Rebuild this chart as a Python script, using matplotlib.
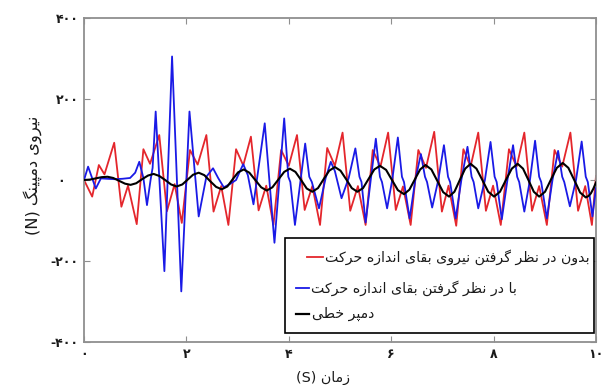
import matplotlib
matplotlib.use("Agg")
import matplotlib.pyplot as plt
from matplotlib.lines import Line2D
from matplotlib.patches import Rectangle

plt.rcParams['font.family'] = ['DejaVu Sans']

# ---------------- data ----------------
time_red = [0.00, 0.16, 0.29, 0.40, 0.59, 0.73, 0.86, 1.03,
            1.16, 1.29, 1.47, 1.62, 1.77, 1.91,
            2.07, 2.22, 2.39, 2.53, 2.68, 2.82,
            2.97, 3.11, 3.26, 3.41, 3.56, 3.70,
            3.85, 4.00, 4.16, 4.31, 4.46, 4.61,
            4.75, 4.90, 5.05, 5.20, 5.35, 5.50,
            5.64, 5.79, 5.94, 6.09, 6.23, 6.38,
            6.53, 6.68, 6.84, 6.99, 7.12, 7.27,
            7.41, 7.55, 7.70, 7.85, 7.99, 8.14,
            8.30, 8.45, 8.60, 8.75, 8.89, 9.04,
            9.19, 9.34, 9.50, 9.65, 9.79, 9.92, 10.00]
force_red = [0, -41, 37, 14, 92, -66, -14, -109,
             76, 40, 111, -77, -10, -106,
             74, 38, 111, -78, -15, -111,
             76, 36, 107, -75, -14, -111,
             74, 35, 111, -74, -15, -111,
             79, 35, 117, -76, -15, -111,
             74, 33, 117, -74, -16, -111,
             74, 30, 119, -78, -14, -113,
             76, 33, 117, -76, -14, -111,
             76, 33, 117, -76, -15, -111,
             74, 33, 117, -76, -15, -111, 10]

time_blue = [0.00, 0.08, 0.23, 0.33, 0.45, 0.60, 0.75, 0.90, 1.00, 1.08,
             1.16, 1.23, 1.30, 1.34, 1.40, 1.57, 1.72, 1.90, 2.06, 2.24,
             2.39, 2.52, 2.62, 2.73, 2.85, 2.97, 3.04, 3.11, 3.20, 3.31,
             3.53, 3.72, 3.91, 3.99, 4.03, 4.12, 4.32, 4.40, 4.45, 4.59,
             4.72, 4.82, 4.90, 5.03, 5.17, 5.30, 5.38, 5.42, 5.50, 5.60,
             5.70, 5.78, 5.82, 5.92, 6.02, 6.13, 6.21, 6.25, 6.36, 6.47,
             6.58, 6.66, 6.70, 6.80, 6.92, 7.03, 7.11, 7.15, 7.26, 7.37,
             7.49, 7.57, 7.61, 7.70, 7.83, 7.94, 8.02, 8.06, 8.16, 8.27,
             8.38, 8.46, 8.50, 8.60, 8.71, 8.81, 8.89, 8.93, 9.04, 9.15,
             9.26, 9.34, 9.38, 9.49, 9.61, 9.72, 9.80, 9.84, 9.93, 10.00]
force_blue = [0, 33, -21, 4, 3, 2, 3, 5, 18, 45,
              5, -62, 0, 30, 169, -225, 305, -275, 169, -90,
              8, 29, 5, -18, -10, 0, 20, 39, 12, -60,
              140, -155, 152, 8, -5, -111, 90, 8, -5, -70,
              5, 45, 22, -45, 5, 78, 8, -5, -105, 0,
              102, 8, -5, -70, 0, 105, 8, -5, -95, 0,
              64, 8, -5, -68, 0, 86, 8, -5, -95, 0,
              82, 8, -5, -70, 0, 94, 8, -5, -97, 0,
              86, 8, -5, -78, 0, 97, 8, -5, -95, 0,
              72, 8, -5, -65, 0, 95, 8, -5, -90, -20]

time_black = [0.00, 0.115, 0.23, 0.345, 0.46, 0.57, 0.685, 0.80, 0.91,
              1.02, 1.135, 1.25, 1.36, 1.47, 1.585, 1.70, 1.81,
              1.92, 2.025, 2.13, 2.24, 2.35, 2.465, 2.58, 2.69,
              2.80, 2.905, 3.01, 3.12, 3.23, 3.345, 3.46, 3.57,
              3.68, 3.795, 3.91, 4.02, 4.13, 4.24, 4.35, 4.46,
              4.57, 4.68, 4.79, 4.90, 5.01, 5.12, 5.23, 5.34,
              5.45, 5.56, 5.67, 5.78, 5.90, 6.015, 6.13, 6.25,
              6.355, 6.46, 6.565, 6.67, 6.785, 6.90, 7.015, 7.13,
              7.235, 7.34, 7.445, 7.55, 7.665, 7.78, 7.895, 8.01,
              8.125, 8.24, 8.355, 8.47, 8.575, 8.68, 8.785, 8.89,
              9.005, 9.12, 9.235, 9.35, 9.46, 9.575, 9.69, 9.80,
              9.85, 9.90, 9.95, 10.00]
force_black = [0, 1, 4, 7, 8, 5, -2, -9, -12,
               -8, 2, 11, 15, 10, 0, -11, -16,
               -11, 1, 13, 18, 12, -3, -17, -23,
               -16, 2, 19, 26, 18, 0, -18, -26,
               -18, 1, 20, 28, 20, 0, -21, -29,
               -20, 2, 23, 32, 23, 2, -20, -29,
               -20, 3, 26, 35, 25, 0, -25, -35,
               -24, 1, 26, 37, 26, -2, -30, -41,
               -29, 0, 28, 40, 28, 0, -29, -41,
               -29, 0, 28, 40, 28, 0, -29, -41,
               -29, 1, 30, 42, 30, 0, -31, -43,
               -40, -33, -21, -6]

x_ticks = [0, 2, 4, 6, 8, 10]
y_ticks = [-400, -200, 0, 200, 400]

label_red = "بدون در نظر گرفتن نیروی بقای اندازه حرکت"
label_blue = "با در نظر گرفتن بقای اندازه حرکت"
label_black = "دمپر خطی"
xlabel_fa = "زمان"
ylabel_fa = "نیروی دمپینگ"

# ---------------- Persian shaping (contextual forms + visual order) ----------------
FORMS = {
    'ا': (0xFE8D, 0xFE8E, None, None),
    'ب': (0xFE8F, 0xFE90, 0xFE91, 0xFE92),
    'پ': (0xFB56, 0xFB57, 0xFB58, 0xFB59),
    'ت': (0xFE95, 0xFE96, 0xFE97, 0xFE98),
    'ج': (0xFE9D, 0xFE9E, 0xFE9F, 0xFEA0),
    'ح': (0xFEA1, 0xFEA2, 0xFEA3, 0xFEA4),
    'خ': (0xFEA5, 0xFEA6, 0xFEA7, 0xFEA8),
    'د': (0xFEA9, 0xFEAA, None, None),
    'ر': (0xFEAD, 0xFEAE, None, None),
    'ز': (0xFEAF, 0xFEB0, None, None),
    'ط': (0xFEC1, 0xFEC2, 0xFEC3, 0xFEC4),
    'ظ': (0xFEC5, 0xFEC6, 0xFEC7, 0xFEC8),
    'ف': (0xFED1, 0xFED2, 0xFED3, 0xFED4),
    'ق': (0xFED5, 0xFED6, 0xFED7, 0xFED8),
    '\u06a9': (0xFB8E, 0xFB8F, 0xFB90, 0xFB91),
    'گ': (0xFB92, 0xFB93, 0xFB94, 0xFB95),
    'م': (0xFEE1, 0xFEE2, 0xFEE3, 0xFEE4),
    'ن': (0xFEE5, 0xFEE6, 0xFEE7, 0xFEE8),
    'ه': (0xFEE9, 0xFEEA, 0xFEEB, 0xFEEC),
    'و': (0xFEED, 0xFEEE, None, None),
    '\u06cc': (0xFBFC, 0xFBFD, 0xFBFE, 0xFBFF),
}


def shape(s):
    s = s.replace('\u064a', '\u06cc').replace('\u0643', '\u06a9')
    out = []
    for i, c in enumerate(s):
        if c not in FORMS:
            out.append(c)
            continue
        iso, fin, ini, med = FORMS[c]
        prev = s[i - 1] if i > 0 else ''
        nxt = s[i + 1] if i + 1 < len(s) else ''
        jp = prev in FORMS and FORMS[prev][2] is not None
        jn = ini is not None and nxt in FORMS
        if jp and jn:
            g = med
        elif jp:
            g = fin
        elif jn:
            g = ini
        else:
            g = iso
        out.append(chr(g))
    return ''.join(reversed(out))


def fa_num(v):
    digits = str(abs(v)).translate(str.maketrans('0123456789', '۰۱۲۳۴۵۶۷۸۹'))
    return ('-' if v < 0 else '') + digits


# ---------------- figure ----------------
W, H = 607, 385
fig = plt.figure(figsize=(W / 100, H / 100), dpi=100)
fig.patch.set_facecolor('white')


def fxy(px, py):
    return px / W, 1 - py / H


ax = fig.add_axes([84 / W, 1 - 342 / H, 512 / W, 324 / H])

ax.plot(time_red, force_red, color='#e4262c', lw=1.3, zorder=2)
ax.plot(time_blue, force_blue, color='#1a1ae6', lw=1.3, zorder=3)
ax.plot(time_black, force_black, color='black', lw=1.5, zorder=4)

ax.set_xlim(0, 10)
ax.set_ylim(-400, 400)
ax.set_xticks(x_ticks)
ax.set_xticklabels([fa_num(v) for v in x_ticks])
ax.set_yticks(y_ticks)
ax.set_yticklabels([fa_num(v) if v != 0 else fa_num(v) + '   ' for v in y_ticks])

for sp in ax.spines.values():
    sp.set_color('#8f8f8f')
    sp.set_linewidth(1.3)
ax.tick_params(direction='in', length=4, width=0.8, color='#8f8f8f',
               top=True, right=True, labelsize=9, labelcolor='#1a1a1a', pad=4)
for lab in ax.get_xticklabels() + ax.get_yticklabels():
    lab.set_fontweight('bold')

# axis titles
xl = fig.text(*fxy(323, 378), "(S) " + shape(xlabel_fa), ha='center', va='center',
              fontsize=10, color='#1a1a1a')
yl = fig.text(*fxy(33, 175), "(N) " + shape(ylabel_fa), ha='center', va='center',
              rotation=90, fontsize=10, color='#1a1a1a')

# legend box
x0, y0 = fxy(285, 333)
x1, y1 = fxy(594, 238)
fig.add_artist(Rectangle((x0, y0), x1 - x0, y1 - y0, transform=fig.transFigure,
                         facecolor='white', edgecolor='black', lw=1.2, zorder=5))

rows = [
    (label_red, '#e4262c', 1.3, 307, 323, 325, 257),
    (label_blue, '#1a1ae6', 1.3, 296, 309, 311, 288),
    (label_black, 'black', 1.6, 296, 309, 312, 314),
]
leg_texts = []
for text, col, lw, hx0, hx1, tx, ty in rows:
    a = fxy(hx0, ty)
    b = fxy(hx1, ty)
    fig.add_artist(Line2D([a[0], b[0]], [a[1], b[1]], transform=fig.transFigure,
                          color=col, lw=lw, zorder=6))
    t = fig.text(*fxy(tx, ty), shape(text), ha='left', va='center',
                 fontsize=10, color='#1a1a1a', zorder=6)
    leg_texts.append(t)

# size the texts to their available widths
fig.canvas.draw()
r = fig.canvas.get_renderer()
w = leg_texts[0].get_window_extent(r).width
fs = 10 * 264 / w
for t in leg_texts:
    t.set_fontsize(fs)
wx = xl.get_window_extent(r).width
xl.set_fontsize(10 * 54 / wx)
wy = yl.get_window_extent(r).height
yl.set_fontsize(10 * 120 / wy)

fig.savefig('out.png', dpi=100)
